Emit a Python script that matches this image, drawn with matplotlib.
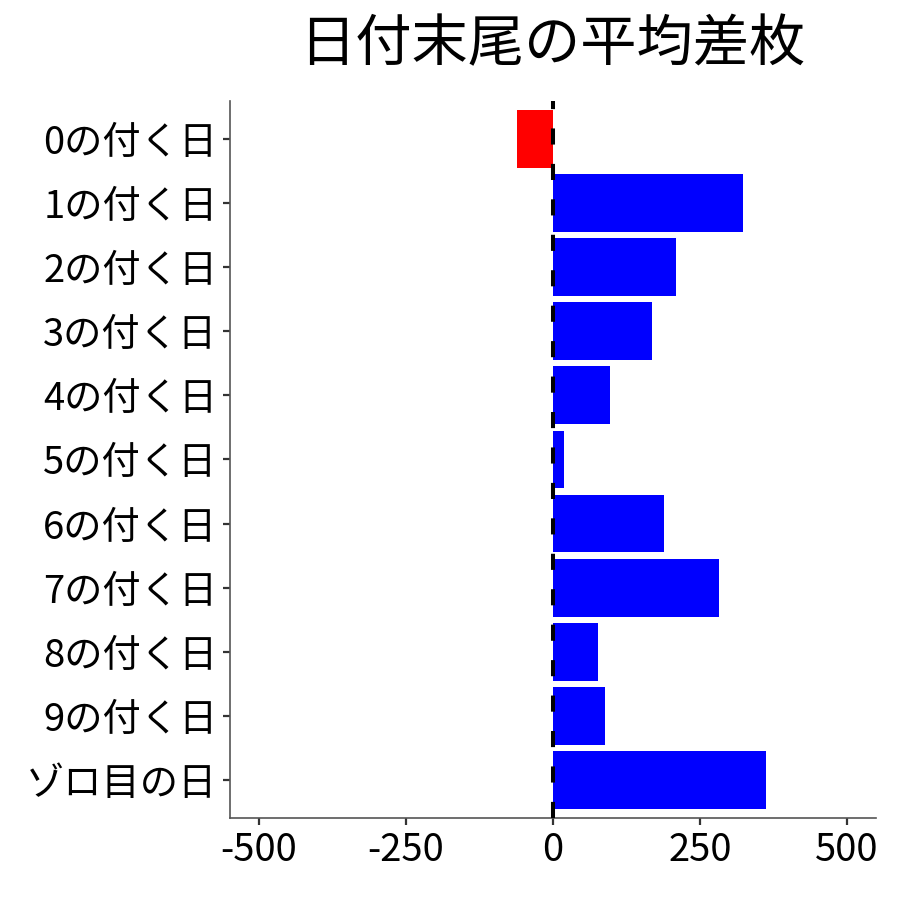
import matplotlib.pyplot as plt
import numpy as np

plt.rcParams['font.family'] = ['Noto Sans CJK JP', 'DejaVu Sans']

# data
labels = ['0の付く日', '1の付く日', '2の付く日', '3の付く日', '4の付く日',
          '5の付く日', '6の付く日', '7の付く日', '8の付く日', '9の付く日',
          'ゾロ目の日']
values = [-61, 323, 209, 168, 97, 19, 189, 282, 77, 88, 362]
xticks = [-500, -250, 0, 250, 500]

colors = ['red' if v < 0 else 'blue' for v in values]
ypos = np.arange(len(labels))

fig = plt.figure(figsize=(9, 9), dpi=100)
ax = fig.add_axes([0.2556, 0.0911, 0.7177, 0.7967])

ax.barh(ypos, values, height=0.9, color=colors, zorder=2)
ax.axvline(0, color='black', linewidth=2.9, linestyle=(0, (4, 4.8)), zorder=3)

ax.set_yticks(ypos)
ax.set_yticklabels(labels)
ax.set_ylim(len(labels) - 1 + 0.59, -0.59)
ax.set_xticks(xticks)
ax.set_xticklabels([str(t) for t in xticks])
ax.set_xlim(-549, 549)

for s in ['top', 'right']:
    ax.spines[s].set_visible(False)
for s in ['left', 'bottom']:
    ax.spines[s].set_color('#555555')
    ax.spines[s].set_linewidth(1.2)

ax.tick_params(axis='both', labelsize=27.5, length=5, width=1.6,
               color='#333333', labelcolor='black', pad=4)

fig.text(0.614, 0.95, '日付末尾の平均差枚', fontsize=40.5, ha='center', va='center')

fig.savefig('out.png', dpi=100)
